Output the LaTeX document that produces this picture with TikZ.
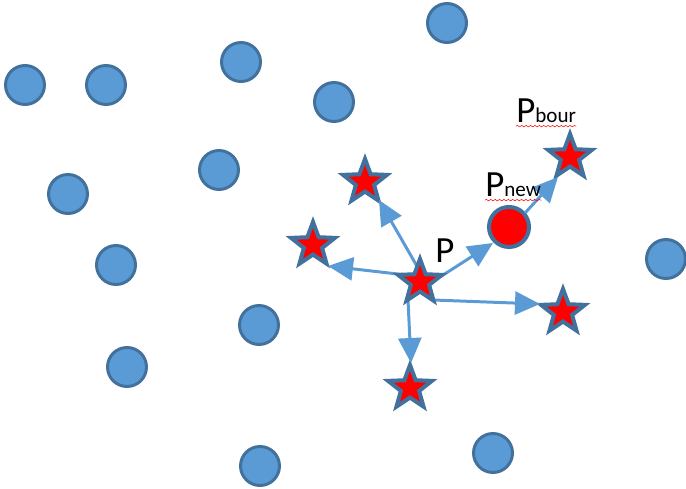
\documentclass[tikz,border=0pt]{standalone}
\usepackage{fontspec}
\setmainfont{Carlito}
\usetikzlibrary{shapes.geometric,arrows.meta,calc,decorations.pathmorphing}
\definecolor{seedblue}{HTML}{5B9BD5}
\definecolor{rimblue}{HTML}{41719C}
\tikzset{every node/.style={inner sep=0pt}, >={Triangle[length=0.5cm,width=0.46cm]},
  seed/.style={circle, fill=seedblue, draw=rimblue, line width=1.7pt, minimum size=0.78cm},
  nbr/.style={star, star points=5, star point ratio=2.4, fill=red, draw=rimblue, line width=2.3pt, minimum size=0.92cm},
  newpt/.style={circle, fill=red, draw=rimblue, line width=2.3pt, minimum size=0.8cm},
  link/.style={->, draw=seedblue, fill=seedblue, line width=1.7pt},
  lbl/.style={anchor=base west, font=\fontsize{21}{21}\selectfont},
  wavy/.style={draw=red, line width=0.3pt, decorate, decoration={snake, amplitude=0.4pt, segment length=2.5pt}}}

\begin{document}
\begin{tikzpicture}[x=0.02cm, y=-0.02cm]
    \useasboundingbox (0,0) rectangle (686,489);
    % other points
    \node [seed] (c1) at (447,23) {};
    \node [seed] (c2) at (25,85) {};
    \node [seed] (c3) at (106,85) {};
    \node [seed] (c4) at (241,62) {};
    \node [seed] (c5) at (334,102) {};
    \node [seed] (c6) at (219,170) {};
    \node [seed] (c7) at (68,194) {};
    \node [seed] (c8) at (116,265) {};
    \node [seed] (c9) at (666,259) {};
    \node [seed] (c10) at (259,325) {};
    \node [seed] (c11) at (127,367) {};
    \node [seed] (c12) at (493,453) {};
    \node [seed] (c13) at (260,466) {};

    % neighbours of P
    \coordinate (p) at (420,282);
    \node [nbr] (s1) at (365,182) {};
    \node [nbr] (s2) at (313,245) {};
    \node [nbr] (s3) at (563,312) {};
    \node [nbr] (s4) at (410,388) {};
    \node [nbr] (sb) at (570,157) {};
    \node [newpt] (pn) at (509,227) {};

    \draw [link] ($(p)+(-2,-14)$) -- ($(s1)+(14,18)$);
    \draw [link] ($(p)+(-5,-6)$) -- ($(s2)+(15,21)$);
    \draw [link] ($(p)+(20,-5)$) -- ($(pn)+(-16,16)$);
    \draw [link] ($(p)+(13,18)$) -- ($(s3)+(-23,-8)$);
    \draw [link] ($(p)+(-12,18)$) -- ($(s4)+(1,-25)$);
    \draw [link] ($(pn)+(16,-14)$) -- ($(sb)+(-12,20)$);

    \node [nbr] (sp) at (p) {};

    \node [lbl] (lp) at (435,263) {P};
    \node [lbl] (lpn) at (485,197) {P{\fontsize{12}{12}\selectfont new}};
    \node [lbl] (lpb) at (516,123) {P{\fontsize{12}{12}\selectfont bour}};
    \draw [wavy] ([yshift=-1.5pt]lpn.south west) -- ([yshift=-1.5pt]lpn.south east);
    \draw [wavy] ([yshift=-1.5pt]lpb.south west) -- ([yshift=-1.5pt]lpb.south east);
\end{tikzpicture}
\end{document}
